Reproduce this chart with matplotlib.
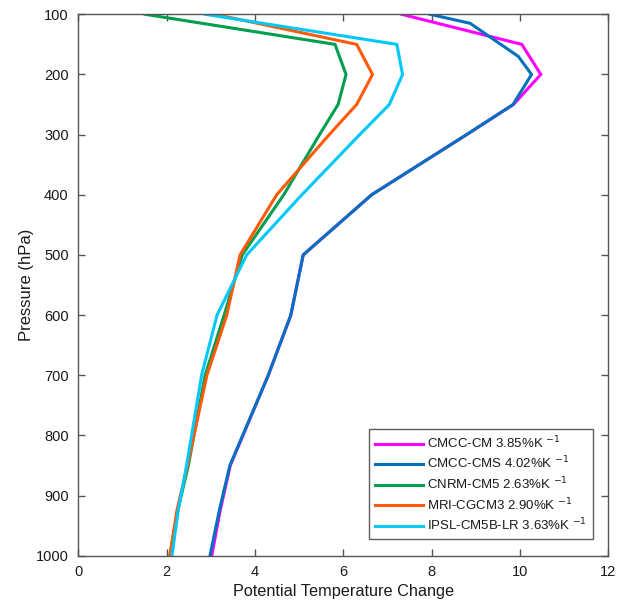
import matplotlib
matplotlib.use("Agg")
import matplotlib.pyplot as plt

plt.rcParams["font.family"] = ["Liberation Sans", "DejaVu Sans"]

# pressure levels (hPa)
levels = [100, 150, 200, 250, 300, 400, 500, 600, 700, 850, 925, 1000]
levels_cms = [100, 115, 170, 200, 250, 300, 400, 500, 600, 700, 850, 925, 1000]

# potential temperature change per model
cmcc_cm = [7.32, 10.04, 10.47, 9.85, 8.79, 6.64, 5.09, 4.81, 4.30, 3.44, 3.21, 3.02]
cmcc_cms = [7.96, 8.87, 9.96, 10.26, 9.84, 8.79, 6.64, 5.09, 4.81, 4.30, 3.43, 3.19, 2.98]
cnrm_cm5 = [1.51, 5.81, 6.06, 5.88, 5.46, 4.65, 3.71, 3.30, 2.87, 2.49, 2.25, 2.07]
mri_cgcm3 = [3.09, 6.30, 6.66, 6.30, 5.68, 4.49, 3.66, 3.36, 2.91, 2.47, 2.23, 2.07]
ipsl_cm5b = [2.87, 7.21, 7.34, 7.04, 6.37, 5.06, 3.81, 3.14, 2.79, 2.45, 2.26, 2.12]

labels = [
    "CMCC-CM 3.85%K $^{-1}$",
    "CMCC-CMS 4.02%K $^{-1}$",
    "CNRM-CM5 2.63%K $^{-1}$",
    "MRI-CGCM3 2.90%K $^{-1}$",
    "IPSL-CM5B-LR 3.63%K $^{-1}$",
]
colors = ["#ff00ff", "#0072bd", "#009e4f", "#ff5a0a", "#00c8f8"]

x_ticks = [0, 2, 4, 6, 8, 10, 12]
y_ticks = [100, 200, 300, 400, 500, 600, 700, 800, 900, 1000]

fig = plt.figure(figsize=(6.21, 6.03), dpi=100)
ax = fig.add_axes([0.1262, 0.0784, 0.8535, 0.8979])

series = [
    (cmcc_cm, levels),
    (cmcc_cms, levels_cms),
    (cnrm_cm5, levels),
    (mri_cgcm3, levels),
    (ipsl_cm5b, levels),
]
for (vals, p), lab, col in zip(series, labels, colors):
    ax.plot(vals, p, color=col, lw=2.2, label=lab, solid_joinstyle="miter")

ax.set_xlim(0, 12)
ax.set_ylim(1000, 100)
ax.set_xticks(x_ticks)
ax.set_yticks(y_ticks)

axis_grey = "#555555"
for spine in ax.spines.values():
    spine.set_color(axis_grey)
    spine.set_linewidth(1.0)
ax.tick_params(direction="in", length=5, width=1.0, color=axis_grey,
               labelsize=10.5, labelcolor="#1a1a1a",
               top=True, right=True)
ax.tick_params(axis="x", pad=7)
ax.tick_params(axis="y", pad=7)

ax.set_xlabel("Potential Temperature Change", fontsize=11.7, color="#1a1a1a", labelpad=3)
ax.set_ylabel("Pressure (hPa)", fontsize=12, color="#1a1a1a", labelpad=1)

leg = ax.legend(loc="lower right", bbox_to_anchor=(0.9702, 0.0303),
                fontsize=9.5, frameon=True, fancybox=False,
                handlelength=3.6, handletextpad=0.3, labelspacing=0.3,
                borderpad=0.45, borderaxespad=0.0)
leg.get_frame().set_edgecolor("#333333")
leg.get_frame().set_linewidth(1.0)
for txt in leg.get_texts():
    txt.set_color("#1a1a1a")

fig.savefig("out.png", dpi=100)
